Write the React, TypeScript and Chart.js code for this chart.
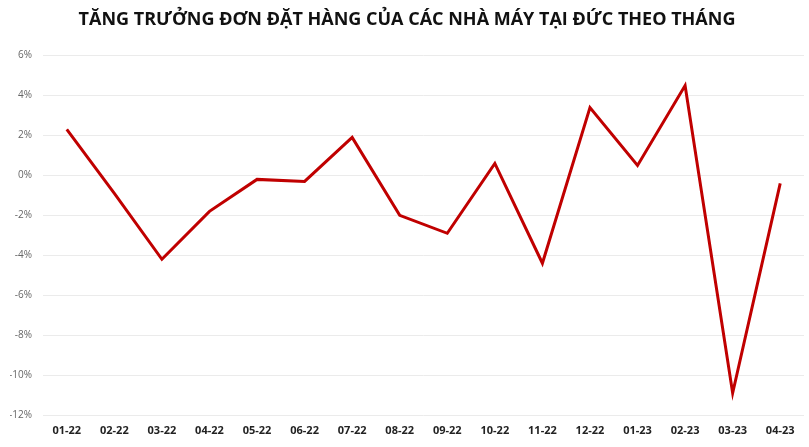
import React, { useEffect, useRef } from "react";
import { Chart, registerables } from "chart.js";

Chart.register(...registerables);

const TITLE = "TĂNG TRƯỞNG ĐƠN ĐẶT HÀNG CỦA CÁC NHÀ MÁY TẠI ĐỨC THEO THÁNG";

const months = [
  "01-22", "02-22", "03-22", "04-22", "05-22", "06-22", "07-22", "08-22",
  "09-22", "10-22", "11-22", "12-22", "01-23", "02-23", "03-23", "04-23",
];

const orderGrowth = [
  2.3, -0.9, -4.2, -1.8, -0.2, -0.3, 1.9, -2.0,
  -2.9, 0.6, -4.4, 3.4, 0.5, 4.5, -10.9, -0.4,
];

const yMin = -12;
const yMax = 6;
const yStep = 2;

export default function App() {
  const ref = useRef<HTMLCanvasElement | null>(null);

  useEffect(() => {
    if (!ref.current) return;
    const chart = new Chart(ref.current, {
      type: "line",
      data: {
        labels: months,
        datasets: [
          {
            data: orderGrowth,
            borderColor: "#C00000",
            backgroundColor: "#C00000",
            borderWidth: 3,
            pointRadius: 0,
            tension: 0,
            fill: false,
          },
        ],
      },
      options: {
        animation: false,
        responsive: true,
        maintainAspectRatio: false,
        layout: { padding: { left: 10, right: 5, top: 0, bottom: 0 } },
        plugins: {
          legend: { display: false },
          tooltip: { enabled: false },
          title: {
            display: true,
            text: TITLE,
            color: "#111111",
            font: { family: "'Open Sans', sans-serif", size: 18, weight: "bold", lineHeight: 1.2 },
            padding: { top: 9, bottom: 25 },
          },
        },
        scales: {
          x: {
            offset: true,
            grid: { display: false, drawTicks: false },
            border: { display: false },
            afterFit: (scale: any) => {
              scale.height = 32;
            },
            ticks: {
              color: "#222222",
              padding: 9,
              maxRotation: 0,
              autoSkip: false,
              font: { family: "'Open Sans', sans-serif", size: 11, weight: "bold" },
            },
          },
          y: {
            min: yMin,
            max: yMax,
            grid: { color: "#EBEBEB", lineWidth: 1, drawTicks: false },
            border: { display: false },
            afterFit: (scale: any) => {
              scale.width = 33;
            },
            ticks: {
              stepSize: yStep,
              color: "#666666",
              padding: 11,
              font: { family: "'Open Sans', sans-serif", size: 10 },
              callback: (v: any) => `${v}%`,
            },
          },
        },
      },
    });
    return () => chart.destroy();
  }, []);

  return (
    <div style={{ position: "fixed", left: 0, top: 0, width: 809, height: 447, background: "#ffffff" }}>
      <canvas ref={ref} />
    </div>
  );
}
